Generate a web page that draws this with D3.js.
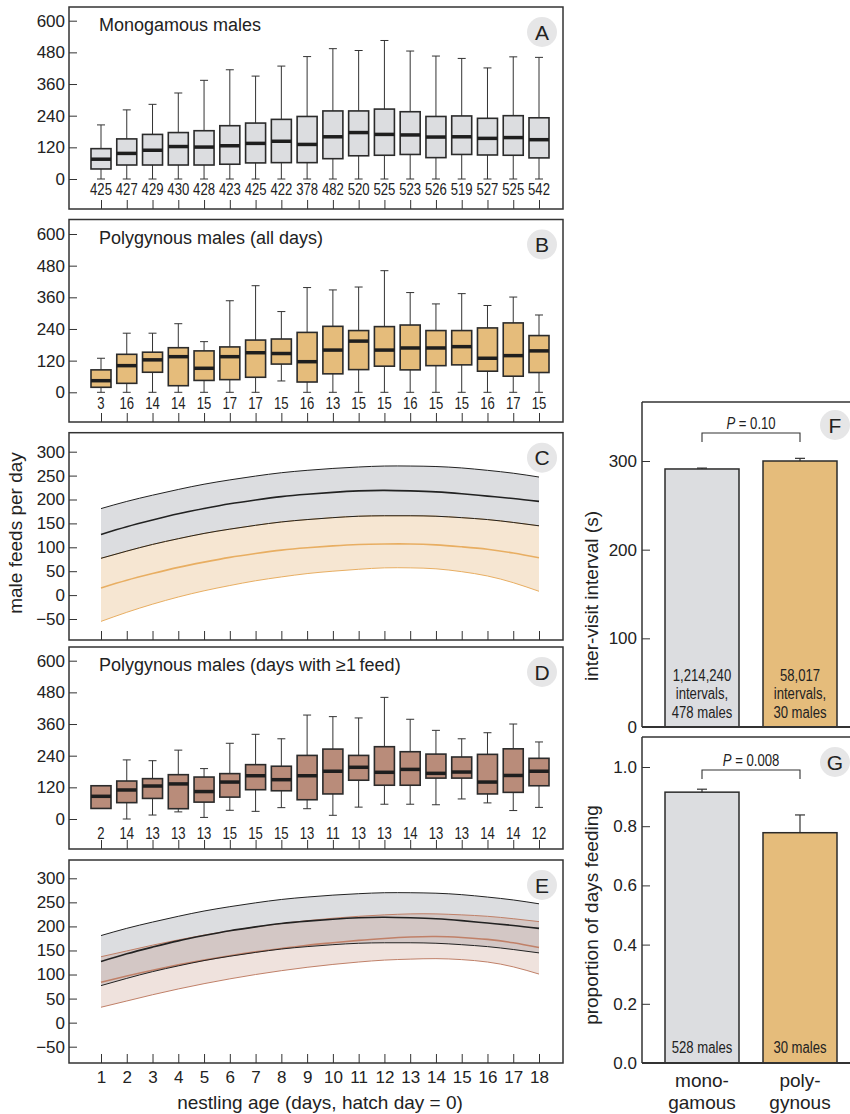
<!DOCTYPE html>
<html>
<head>
<meta charset="utf-8">
<script src="https://cdn.jsdelivr.net/npm/d3@7"></script>
<style>
body { margin: 0; background: #fff; }
text { font-family: "Liberation Sans", Arial, sans-serif; fill: #222; }
</style>
</head>
<body>
<svg id="fig" width="850" height="1114"></svg>
<script>
// ---- data ----
const days = [1, 2, 3, 4, 5, 6, 7, 8, 9, 10, 11, 12, 13, 14, 15, 16, 17, 18];
const boxTicks = [0, 120, 240, 360, 480, 600];
const fitTicks = [-50, 0, 50, 100, 150, 200, 250, 300];

// A: monogamous males
const monoN   = [425, 427, 429, 430, 428, 423, 425, 422, 378, 482, 520, 525, 523, 526, 519, 527, 525, 542];
const monoMax = [205, 262, 283, 326, 374, 414, 390, 428, 464, 494, 487, 525, 485, 466, 457, 421, 463, 461];
const monoQ3  = [115, 152, 169, 176, 183, 202, 212, 226, 237, 258, 258, 265, 255, 237, 239, 230, 240, 232];
const monoMed = [75, 97, 109, 123, 121, 126, 135, 143, 131, 160, 176, 169, 167, 159, 160, 154, 157, 149];
const monoQ1  = [38, 53, 53, 53, 53, 56, 61, 62, 62, 77, 88, 90, 93, 81, 93, 91, 90, 80];
const monoMin = [0, 0, 0, 0, 0, 0, 0, 0, 0, 0, 0, 0, 0, 0, 0, 0, 0, 0];

// B: polygynous males, all days
const polyN   = [3, 16, 14, 14, 15, 17, 17, 15, 16, 13, 15, 15, 16, 15, 15, 16, 17, 15];
const polyMax = [129, 224, 224, 260, 192, 347, 404, 306, 397, 388, 399, 461, 378, 335, 374, 329, 361, 293];
const polyQ3  = [85, 144, 152, 169, 157, 172, 198, 202, 227, 250, 234, 249, 255, 234, 234, 244, 263, 215];
const polyMed = [44, 101, 123, 135, 91, 135, 150, 147, 116, 160, 194, 160, 168, 168, 173, 129, 139, 157];
const polyQ1  = [19, 34, 76, 25, 45, 48, 57, 107, 39, 70, 86, 99, 85, 101, 104, 80, 61, 75];
const polyMin = [0, 0, 0, 0, 0, 0, 0, 43, 0, 0, 0, 0, 0, 0, 0, 0, 0, 0];

// D: polygynous males, days with >= 1 feed
const fedN   = [2, 14, 13, 13, 13, 15, 15, 15, 13, 11, 13, 13, 14, 13, 13, 14, 14, 12];
const fedMax = [126, 224, 221, 261, 191, 287, 321, 304, 394, 388, 383, 461, 378, 336, 304, 327, 360, 292];
const fedQ3  = [126, 144, 153, 168, 159, 172, 206, 200, 241, 265, 241, 274, 255, 246, 235, 245, 266, 230];
const fedMed = [86, 110, 125, 133, 104, 140, 164, 149, 164, 181, 196, 177, 188, 173, 178, 140, 165, 181];
const fedQ1  = [40, 62, 78, 39, 64, 83, 111, 107, 73, 95, 147, 128, 128, 155, 155, 95, 101, 126];
const fedMin = [40, 0, 15, 27, 6, 33, 29, 43, 39, 14, 45, 56, 56, 54, 76, 61, 32, 44];

// C / E: fitted curves (mean and 95% band)
const monoFitHi   = [181, 196, 209, 221, 232, 241, 249, 256, 261, 265, 268, 270, 270, 269, 266, 261, 255, 247];
const monoFitMean = [127, 143, 157, 170, 181, 191, 199, 206, 211, 215, 218, 219, 218, 216, 212, 207, 202, 196];
const monoFitLo   = [77, 92, 106, 118, 129, 138, 146, 153, 158, 162, 165, 166, 166, 165, 162, 158, 152, 145];
const polyFitHi   = [77, 92, 106, 118, 129, 138, 146, 153, 158, 162, 165, 166, 166, 165, 162, 158, 152, 145];
const polyFitMean = [15, 31, 45, 58, 69, 79, 87, 94, 99, 103, 106, 107, 107, 105, 101, 96, 88, 78];
const polyFitLo   = [-55, -36, -19, -4, 9, 20, 30, 38, 45, 50, 54, 57, 57, 55, 49, 40, 26, 8];
const fedFitHi    = [137, 149, 161, 172, 182, 191, 199, 206, 212, 217, 221, 224, 226, 226, 224, 221, 216, 210];
const fedFitMean  = [84, 97, 109, 120, 130, 139, 147, 154, 161, 166, 171, 175, 178, 179, 177, 173, 166, 156];
const fedFitLo    = [32, 45, 58, 70, 81, 91, 100, 108, 115, 121, 126, 130, 132, 133, 131, 126, 116, 101];

// F / G: bar panels
const groups = ['mono', 'poly'];
const groupLabels = [['mono-', 'gamous'], ['poly-', 'gynous']];
const intervalMean = [291, 300];
const intervalSE = [1, 3];
const intervalNotes = [['1,214,240', 'intervals,', '478 males'], ['58,017', 'intervals,', '30 males']];
const feedDaysMean = [0.915, 0.778];
const feedDaysSE = [0.01, 0.06];
const feedDaysNotes = [['528 males'], ['30 males']];
const intervalTicks = [0, 100, 200, 300];
const propTicks = [0, 0.2, 0.4, 0.6, 0.8, 1.0];

// ---- drawing ----
const svg = d3.select('#fig');
const left = 69, right = 563;
const x = d3.scaleLinear().domain([1, 18]).range([101, 539]);
const boxW = 20;
const grey = '#dcdde0', orange = '#e5bc7b', brown = '#b98c7a';
const squeeze = 0.82;   // condensed look of the small labels

function narrowText(sel, tx, ty) {
  return sel.append('text')
    .attr('transform', `translate(${tx},${ty}) scale(${squeeze},1)`)
    .attr('text-anchor', 'middle').attr('dy', '0.36em');
}

function letterBadge(cx, cy, letter) {
  svg.append('circle').attr('cx', cx).attr('cy', cy).attr('r', 15).attr('fill', '#e6e6e7');
  svg.append('text').attr('x', cx).attr('y', cy).attr('dy', '0.36em')
    .attr('text-anchor', 'middle').attr('font-size', 21).text(letter);
}

function frame(top, bottom, y, ticks, letter, showX) {
  svg.append('rect')
    .attr('x', left).attr('y', top)
    .attr('width', right - left).attr('height', bottom - top)
    .attr('fill', 'none').attr('stroke', '#333').attr('stroke-width', 1.5);

  const yAxis = svg.append('g').attr('transform', `translate(${left},0)`)
    .call(d3.axisLeft(y).tickValues(ticks).tickSize(-8).tickPadding(4)
      .tickFormat(d => d < 0 ? '\u221250' : d));
  yAxis.select('.domain').remove();
  yAxis.selectAll('line').attr('stroke', '#333');
  yAxis.selectAll('text').attr('font-size', 17).attr('fill', '#222');

  const xAxis = svg.append('g').attr('transform', `translate(0,${bottom})`)
    .call(d3.axisBottom(x).tickValues(days).tickSize(-9).tickPadding(8)
      .tickFormat(showX ? d => d : ''));
  xAxis.select('.domain').remove();
  xAxis.selectAll('line').attr('stroke', '#333');
  xAxis.selectAll('text').attr('font-size', 17).attr('fill', '#222');

  letterBadge(542, top + 25, letter);
}

function boxPanel(top, bottom, y0, y600, stats, fill, title, letter, countY) {
  const y = d3.scaleLinear().domain([0, 600]).range([y0, y600]);
  frame(top, bottom, y, boxTicks, letter, false);

  const rows = days.map((d, i) => ({
    day: d, min: stats.min[i], q1: stats.q1[i], med: stats.med[i],
    q3: stats.q3[i], max: stats.max[i], n: stats.n[i]
  }));
  const g = svg.append('g');
  const box = g.selectAll('g').data(rows).join('g');

  box.append('line')
    .attr('x1', d => x(d.day)).attr('x2', d => x(d.day))
    .attr('y1', d => y(d.min)).attr('y2', d => y(d.max))
    .attr('stroke', '#333').attr('stroke-width', 1);
  box.selectAll('.cap').data(d => [d.min, d.max].map(v => ({day: d.day, v}))).join('line')
    .attr('class', 'cap')
    .attr('x1', d => x(d.day) - 4).attr('x2', d => x(d.day) + 4)
    .attr('y1', d => y(d.v)).attr('y2', d => y(d.v))
    .attr('stroke', '#333').attr('stroke-width', 1);
  box.append('rect')
    .attr('x', d => x(d.day) - boxW / 2).attr('width', boxW)
    .attr('y', d => y(d.q3)).attr('height', d => y(d.q1) - y(d.q3))
    .attr('fill', fill).attr('stroke', '#2b2b2b').attr('stroke-width', 1.6);
  box.append('line')
    .attr('x1', d => x(d.day) - boxW / 2).attr('x2', d => x(d.day) + boxW / 2)
    .attr('y1', d => y(d.med)).attr('y2', d => y(d.med))
    .attr('stroke', '#1e1e1e').attr('stroke-width', 3.5);
  rows.forEach(r => {
    narrowText(g, x(r.day), countY).attr('font-size', 16).text(r.n);
  });

  svg.append('text').attr('x', 99).attr('y', top + 24).attr('font-size', 18).text(title);
}

function fitPanel(top, bottom, yTop, yBottom, fits, letter, showX) {
  const y = d3.scaleLinear().domain([-50, 300]).range([yBottom, yTop]);
  const g = svg.append('g');
  const curve = d3.curveNatural;
  const series = fits.map(f => ({
    f, rows: days.map((d, i) => ({day: d, lo: f.lo[i], mean: f.mean[i], hi: f.hi[i]}))
  }));
  series.forEach(s => {
    g.append('path').datum(s.rows)
      .attr('d', d3.area().x(d => x(d.day)).y0(d => y(d.lo)).y1(d => y(d.hi)).curve(curve))
      .attr('fill', s.f.band).attr('fill-opacity', s.f.bandOpacity);
  });
  series.slice().reverse().forEach(s => {
    ['lo', 'hi', 'mean'].forEach(k => {
      g.append('path').datum(s.rows)
        .attr('d', d3.line().x(d => x(d.day)).y(d => y(d[k])).curve(curve))
        .attr('fill', 'none').attr('stroke', s.f.line)
        .attr('stroke-width', k === 'mean' ? 1.6 : 1);
    });
  });
  frame(top, bottom, y, fitTicks, letter, showX);
}

boxPanel(7, 209, 179, 20.7,
  {min: monoMin, q1: monoQ1, med: monoMed, q3: monoQ3, max: monoMax, n: monoN},
  grey, 'Monogamous males', 'A', 189);
boxPanel(219.5, 422, 392.3, 234,
  {min: polyMin, q1: polyQ1, med: polyMed, q3: polyQ3, max: polyMax, n: polyN},
  orange, 'Polygynous males (all days)', 'B', 403);
fitPanel(432.7, 640, 451.7, 619, [
  {lo: monoFitLo, mean: monoFitMean, hi: monoFitHi, band: grey, bandOpacity: 1, line: '#222'},
  {lo: polyFitLo, mean: polyFitMean, hi: polyFitHi, band: '#f6e6d2', bandOpacity: 1, line: '#e8ae62'}
], 'C', false);
boxPanel(647, 849, 819, 660.7,
  {min: fedMin, q1: fedQ1, med: fedMed, q3: fedQ3, max: fedMax, n: fedN},
  brown, 'Polygynous males (days with \u22651\u2009feed)', 'D', 833);
fitPanel(860, 1063, 878.3, 1046.7, [
  {lo: monoFitLo, mean: monoFitMean, hi: monoFitHi, band: grey, bandOpacity: 1, line: '#222'},
  {lo: fedFitLo, mean: fedFitMean, hi: fedFitHi, band: '#b87a62', bandOpacity: 0.22, line: '#c08068'}
], 'E', true);

svg.append('text').attr('transform', 'translate(22,533) rotate(-90)')
  .attr('text-anchor', 'middle').attr('font-size', 19).text('male feeds per day');
svg.append('text').attr('x', 320).attr('y', 1109)
  .attr('text-anchor', 'middle').attr('font-size', 19).text('nestling age (days, hatch day = 0)');

// ---- F and G ----
const barLeft = 642, barW = 74;
const xBar = d3.scalePoint().domain(groups).range([702, 800]);

function barPanel(top, base, y, ticks, fmt, means, ses, notes, noteY, pText, bracketY, letter, title, titleY) {
  const g = svg.append('g');
  g.append('line').attr('x1', barLeft).attr('x2', 852).attr('y1', top).attr('y2', top)
    .attr('stroke', '#333').attr('stroke-width', 1.5);
  g.append('line').attr('x1', barLeft).attr('x2', barLeft).attr('y1', top).attr('y2', base)
    .attr('stroke', '#333').attr('stroke-width', 1.5);

  const rows = groups.map((k, i) => ({k, m: means[i], se: ses[i], notes: notes[i]}));
  g.selectAll('.err').data(rows).join('line').attr('class', 'err')
    .attr('x1', d => xBar(d.k)).attr('x2', d => xBar(d.k))
    .attr('y1', d => y(d.m)).attr('y2', d => y(d.m + d.se))
    .attr('stroke', '#333').attr('stroke-width', 1.2);
  g.selectAll('.cap').data(rows).join('line').attr('class', 'cap')
    .attr('x1', d => xBar(d.k) - 5).attr('x2', d => xBar(d.k) + 5)
    .attr('y1', d => y(d.m + d.se)).attr('y2', d => y(d.m + d.se))
    .attr('stroke', '#333').attr('stroke-width', 1.2);
  g.selectAll('.bar').data(rows).join('rect').attr('class', 'bar')
    .attr('x', d => xBar(d.k) - barW / 2).attr('width', barW)
    .attr('y', d => y(d.m)).attr('height', d => y(0) - y(d.m))
    .attr('fill', (d, i) => i === 0 ? grey : orange)
    .attr('stroke', '#2b2b2b').attr('stroke-width', 1.5);

  rows.forEach(r => {
    r.notes.forEach((t, j) => {
      narrowText(g, xBar(r.k), noteY + j * 18.5)
        .attr('font-size', 16).attr('fill', '#333').text(t);
    });
  });

  g.append('line').attr('x1', barLeft).attr('x2', 852).attr('y1', base).attr('y2', base)
    .attr('stroke', '#333').attr('stroke-width', 2);

  const axis = svg.append('g').attr('transform', `translate(${barLeft},0)`)
    .call(d3.axisLeft(y).tickValues(ticks).tickSize(-8).tickPadding(5).tickFormat(fmt));
  axis.select('.domain').remove();
  axis.selectAll('line').attr('stroke', '#333');
  axis.selectAll('text').attr('font-size', 17).attr('fill', '#222');

  // significance bracket
  const x1 = xBar('mono'), x2 = xBar('poly');
  g.append('path')
    .attr('d', `M${x1},${bracketY + 9}V${bracketY}H${x2}V${bracketY + 9}`)
    .attr('fill', 'none').attr('stroke', '#333').attr('stroke-width', 1.1);
  const pt = narrowText(g, (x1 + x2) / 2, bracketY - 10).attr('font-size', 16);
  pt.append('tspan').attr('font-style', 'italic').text('P');
  pt.append('tspan').text(' = ' + pText);

  letterBadge(835, bracketY - 8, letter);

  svg.append('text').attr('transform', `translate(598,${titleY}) rotate(-90)`)
    .attr('text-anchor', 'middle').attr('font-size', 19).text(title);
}

const yF = d3.scaleLinear().domain([0, 300]).range([727, 461]);
barPanel(402, 727, yF, intervalTicks, d => d, intervalMean, intervalSE, intervalNotes, 675,
  '0.10', 433, 'F', 'inter-visit interval (s)', 596);

const yG = d3.scaleLinear().domain([0, 1]).range([1063, 767]);
barPanel(737, 1063, yG, propTicks, d3.format('.1f'), feedDaysMean, feedDaysSE, feedDaysNotes, 1047,
  '0.008', 770, 'G', 'proportion of days feeding', 915);

groups.forEach((k, i) => {
  groupLabels[i].forEach((t, j) => {
    svg.append('text').attr('x', xBar(k)).attr('y', 1080 + j * 22).attr('dy', '0.36em')
      .attr('text-anchor', 'middle').attr('font-size', 19).text(t);
  });
});
</script>
</body>
</html>
